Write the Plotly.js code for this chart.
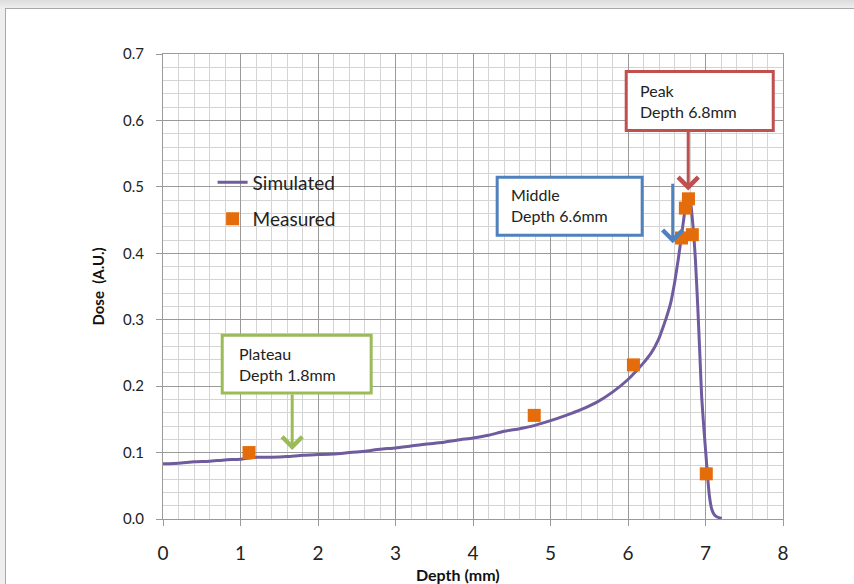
<!DOCTYPE html>
<html>
<head>
<meta charset="utf-8">
<script src="https://cdn.plot.ly/plotly-3.0.1.min.js"></script>
<style>
  html, body { margin: 0; padding: 0; width: 854px; height: 584px; overflow: hidden;
    background: linear-gradient(#dcdcdc 0px, #eeeeee 8px, #eeeeee 100%); }
  #frame { position: absolute; left: 5px; top: 8px; width: 900px; height: 600px;
    background: #ffffff; border: 1px solid #a8a8a8; }
  #chart { position: absolute; left: 0; top: 0; width: 854px; height: 584px; }
</style>
</head>
<body>
<div id="frame"></div>
<div id="chart"></div>
<script>
// Simulated depth-dose curve
const simDepth = [0, 0.2, 0.4, 0.6, 0.8, 1.0, 1.2, 1.4, 1.6, 1.8, 2.0, 2.2, 2.4, 2.6, 2.8, 3.0,
  3.2, 3.4, 3.6, 3.8, 4.0, 4.2, 4.4, 4.6, 4.8, 5.0, 5.2, 5.4, 5.6, 5.8, 6.0, 6.1, 6.2, 6.3,
  6.4, 6.45, 6.5, 6.55, 6.6, 6.65, 6.7, 6.74, 6.78, 6.8, 6.82, 6.85, 6.87, 6.9, 6.93, 6.95,
  6.98, 7.0, 7.03, 7.05, 7.08, 7.11, 7.15, 7.21];
const simDose = [0.083, 0.084, 0.086, 0.087, 0.089, 0.090, 0.093, 0.093, 0.094, 0.096, 0.097,
  0.098, 0.100, 0.102, 0.105, 0.107, 0.110, 0.113, 0.115, 0.119, 0.122, 0.126, 0.132, 0.136,
  0.141, 0.148, 0.156, 0.165, 0.176, 0.191, 0.210, 0.222, 0.235, 0.250, 0.272, 0.288, 0.305,
  0.325, 0.355, 0.392, 0.435, 0.468, 0.485, 0.482, 0.465, 0.425, 0.390, 0.320, 0.240, 0.185,
  0.135, 0.105, 0.060, 0.035, 0.015, 0.007, 0.003, 0.001];

// Measured points
const measDepth = [1.11, 4.79, 6.07, 6.69, 6.74, 6.78, 6.83, 7.01];
const measDose  = [0.100, 0.156, 0.232, 0.423, 0.468, 0.482, 0.428, 0.068];

// Axis ticks
const xTicks = [0, 1, 2, 3, 4, 5, 6, 7, 8];
const yTicks = [0.0, 0.1, 0.2, 0.3, 0.4, 0.5, 0.6, 0.7];

// Callout labels and colours
const calloutLabels = ["Peak<br>Depth 6.8mm", "Middle<br>Depth 6.6mm", "Plateau<br>Depth 1.8mm"];
const calloutColors = ["#C0504D", "#4F81BD", "#9BBB59"];

const FONT = "Lato, 'Open Sans', sans-serif";

const traces = [
  {x: simDepth, y: simDose, type: "scatter", mode: "lines", name: "Simulated",
   legendgroup: "a", line: {color: "#6F5B9E", width: 3, shape: "spline", smoothing: 0.5}},
  {x: measDepth, y: measDose, type: "scatter", mode: "markers", name: "Measured",
   legendgroup: "b", marker: {color: "#E46C0A", symbol: "square", size: 13}}
];

// callout box geometry (data units): [x0, x1, y0, y1, textX, textY]
const boxGeom = [
  [5.977, 7.874, 0.5850, 0.6737, 6.132, 0.6293],
  [4.312, 6.183, 0.4271, 0.5143, 4.467, 0.4722],
  [0.764, 2.686, 0.1895, 0.2767, 0.957, 0.2338]
];

const shapes = boxGeom.map((g, i) => ({type: "rect", xref: "x", yref: "y",
  x0: g[0], x1: g[1], y0: g[2], y1: g[3], layer: "above",
  line: {color: calloutColors[i], width: 3}, fillcolor: "#ffffff"}));

const boxTexts = boxGeom.map((g, i) => ({text: calloutLabels[i], xref: "x", yref: "y",
  x: g[4], y: g[5], xanchor: "left", yanchor: "middle", showarrow: false, align: "left",
  font: {family: FONT, size: 16, color: "#222222"}}));

function arrow(i, x, y, ay) {
  return {text: "", xref: "x", yref: "y", x: x, y: y, ax: 0, ay: ay, showarrow: true,
    arrowhead: 4, arrowsize: 1.3, arrowwidth: 3, arrowcolor: calloutColors[i], standoff: 0};
}

const layout = {
  width: 854, height: 584,
  margin: {l: 163, r: 71, t: 54, b: 65},
  paper_bgcolor: "rgba(0,0,0,0)",
  plot_bgcolor: "#ffffff",
  showlegend: true,
  legend: {x: 0.08, y: 0.765, xanchor: "left", yanchor: "top", bgcolor: "rgba(0,0,0,0)",
    tracegroupgap: 9, font: {family: FONT, size: 19, color: "#222222"}},
  xaxis: {range: [0, 8], tickvals: xTicks, ticktext: xTicks.map(String),
    showgrid: true, gridcolor: "#9a9a9a", gridwidth: 1,
    minor: {dtick: 0.2, showgrid: true, gridcolor: "#d4d4d4", gridwidth: 1},
    showline: true, linecolor: "#9a9a9a", mirror: true, zeroline: false,
    ticks: "outside", ticklen: 6, tickcolor: "#9a9a9a", ticklabelstandoff: 11,
    tickfont: {family: FONT, size: 19, color: "#222222"}},
  yaxis: {range: [0, 0.7], tickvals: yTicks, ticktext: yTicks.map(v => v.toFixed(1)),
    showgrid: true, gridcolor: "#9a9a9a", gridwidth: 1,
    minor: {dtick: 0.02, showgrid: true, gridcolor: "#d4d4d4", gridwidth: 1},
    showline: true, linecolor: "#9a9a9a", mirror: true, zeroline: false,
    ticks: "outside", ticklen: 6, tickcolor: "#9a9a9a", ticklabelstandoff: 9,
    tickfont: {family: FONT, size: 15, color: "#222222"},
    title: {text: "<b>Dose  (A.U.)</b>", standoff: 14, font: {family: FONT, size: 15, color: "#111111"}}},
  shapes: shapes,
  annotations: [
    {text: "<b>Depth (mm)</b>", xref: "paper", yref: "paper", x: 0.476, y: -0.12,
     xanchor: "center", yanchor: "middle", showarrow: false,
     font: {family: FONT, size: 16, color: "#111111"}}
  ].concat(boxTexts, [
    arrow(0, 6.777, 0.4947, -60),
    arrow(1, 6.577, 0.415, -61),
    arrow(2, 1.667, 0.1038, -57)
  ])
};

Plotly.newPlot("chart", traces, layout, {staticPlot: true, displayModeBar: false});
</script>
</body>
</html>
